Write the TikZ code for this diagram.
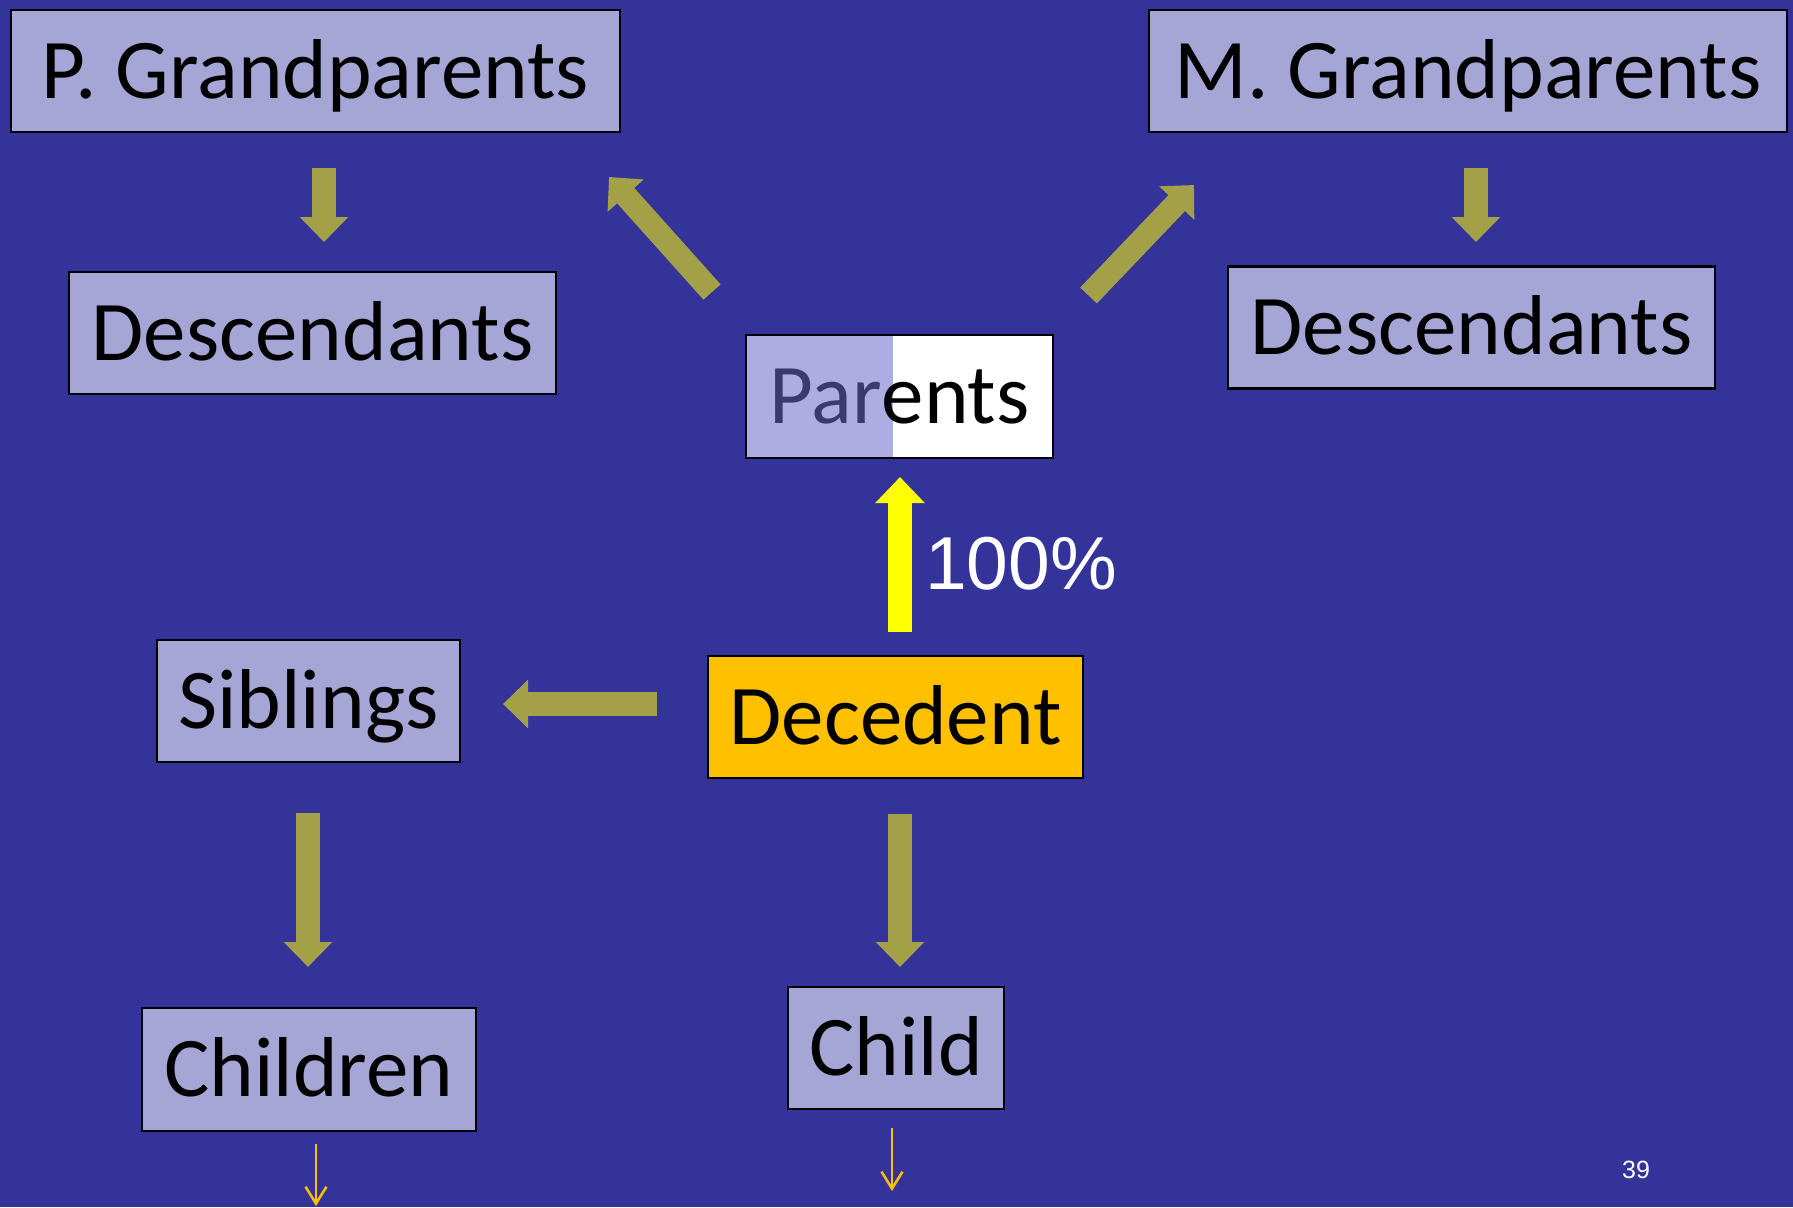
\documentclass[tikz,border=0pt]{standalone}
\usepackage{fontspec}
\setmainfont{Carlito}
\newfontfamily\arialfont{Liberation Sans}
\usetikzlibrary{arrows.meta}
\definecolor{bgblue}{HTML}{333399}
\definecolor{boxfill}{HTML}{A5A5D6}
\definecolor{parfill}{HTML}{ADADE3}
\definecolor{partext}{HTML}{3A3A6E}
\definecolor{olivearrow}{HTML}{A3A048}
\definecolor{decfill}{HTML}{FFC000}
\definecolor{yel}{HTML}{FFFF00}
\begin{document}
\begin{tikzpicture}[x=1pt,y=-1pt,
  box/.style={draw=black, line width=2.5pt, fill=boxfill, inner sep=0pt,
    minimum width=#1, minimum height=122pt, text height=54pt, text depth=0pt,
    font=\fontsize{85}{100}\selectfont},
  blockarrow/.style={draw=olivearrow, line width=24pt, -{Triangle[width=47pt,length=25pt]}},
  diagarrow/.style={draw=olivearrow, line width=23pt, -{Triangle[width=47pt,length=25pt]}},
  thinarrow/.style={draw=decfill, line width=2.5pt, -{Straight Barb[width=21pt,length=17pt]}},
]
\fill[bgblue] (0,0) rectangle (1793,1207);
\useasboundingbox (0,0) rectangle (1793,1207);

% boxes
\node[box=609pt] (pg) at (315.5,71) {P. Grandparents};
\node[box=638pt] (mg) at (1468,71) {M. Grandparents};
\node[box=487pt] (dl) at (312.5,333) {Descendants};
\node[box=487pt] (dr) at (1471.5,327.5) {Descendants};
\node[box=307pt, fill=white, minimum height=123pt,
  path picture={\fill[parfill] (path picture bounding box.north west) rectangle ([xshift=-7pt]path picture bounding box.south);}]
  (par) at (899.5,396.5) {{\color{partext}Par}ents};
\node[box=303pt] (sib) at (308.5,701) {Siblings};
\node[box=375pt, fill=decfill] (dec) at (895.5,717) {Decedent};
\node[box=334pt, minimum height=123pt] (chn) at (309,1069.5) {Children};
\node[box=216pt] (chd) at (896,1048) {Child};

% arrow end points
\coordinate (a1s) at (324,168);  \coordinate (a1e) at (324,242);
\coordinate (a2s) at (1476,168); \coordinate (a2e) at (1476,242);
\coordinate (a3s) at (712,292);  \coordinate (a3e) at (609,177);
\coordinate (a4s) at (1088.5,295.5); \coordinate (a4e) at (1194,185);
\coordinate (a5s) at (900,632);  \coordinate (a5e) at (900,477);
\coordinate (a6s) at (657,704);  \coordinate (a6e) at (503,704);
\coordinate (a7s) at (308,813);  \coordinate (a7e) at (308,967);
\coordinate (a8s) at (900,814);  \coordinate (a8e) at (900,967);
\coordinate (t1s) at (316,1144); \coordinate (t1e) at (316,1206);
\coordinate (t2s) at (892,1128); \coordinate (t2e) at (892,1191);

\draw[blockarrow] (a1s) -- (a1e);
\draw[blockarrow] (a2s) -- (a2e);
\draw[diagarrow] (a3s) -- (a3e);
\draw[diagarrow] (a4s) -- (a4e);
\draw[blockarrow, draw=yel, -{Triangle[width=48pt,length=26pt]}] (a5s) -- (a5e);
\draw[blockarrow] (a6s) -- (a6e);
\draw[blockarrow] (a7s) -- (a7e);
\draw[blockarrow] (a8s) -- (a8e);
\draw[thinarrow] (t1s) -- (t1e);
\draw[thinarrow] (t2s) -- (t2e);

% labels
\node[anchor=base west, inner sep=0pt, text=white, font=\arialfont\fontsize{75}{90}\selectfont] (pct) at (925,589) {100\%};
\node[inner sep=0pt, text=white, font=\arialfont\fontsize{25}{30}\selectfont] (pnum) at (1636,1170) {39};
\end{tikzpicture}
\end{document}
